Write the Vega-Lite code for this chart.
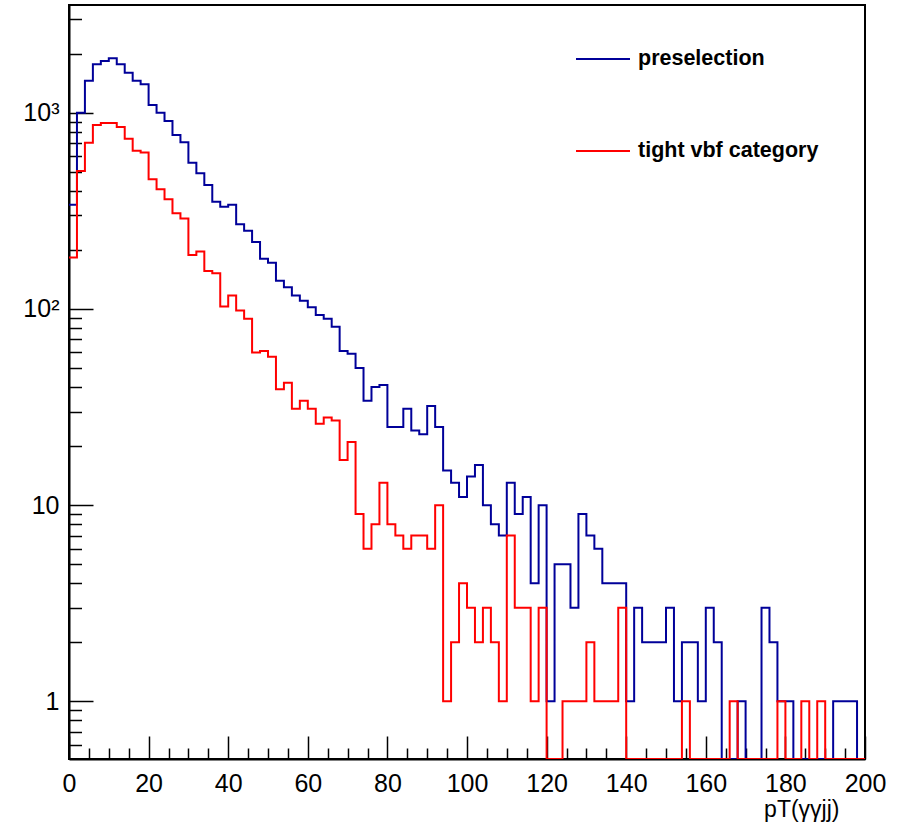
{
  "$schema": "https://vega.github.io/schema/vega-lite/v6.json",
  "width": 796,
  "height": 754,
  "autosize": {"type": "none"},
  "padding": {"left": 69, "top": 5, "right": 43, "bottom": 74},
  "background": "white",
  "config": {
    "view": {"stroke": "black", "strokeWidth": 2},
    "font": "Liberation Sans"
  },
  "data": {
    "values": [
      {"pT": 0, "preselection": 339, "tight vbf category": 183},
      {"pT": 2, "preselection": 1000, "tight vbf category": 505},
      {"pT": 4, "preselection": 1456, "tight vbf category": 703},
      {"pT": 6, "preselection": 1766, "tight vbf category": 866},
      {"pT": 8, "preselection": 1834, "tight vbf category": 886},
      {"pT": 10, "preselection": 1892, "tight vbf category": 886},
      {"pT": 12, "preselection": 1766, "tight vbf category": 846},
      {"pT": 14, "preselection": 1599, "tight vbf category": 737},
      {"pT": 16, "preselection": 1456, "tight vbf category": 640},
      {"pT": 18, "preselection": 1395, "tight vbf category": 626},
      {"pT": 20, "preselection": 1094, "tight vbf category": 458},
      {"pT": 22, "preselection": 1000, "tight vbf category": 407},
      {"pT": 24, "preselection": 907, "tight vbf category": 362},
      {"pT": 26, "preselection": 769, "tight vbf category": 307},
      {"pT": 28, "preselection": 706, "tight vbf category": 289},
      {"pT": 30, "preselection": 556, "tight vbf category": 188},
      {"pT": 32, "preselection": 491, "tight vbf category": 196},
      {"pT": 34, "preselection": 428, "tight vbf category": 156},
      {"pT": 36, "preselection": 352, "tight vbf category": 152},
      {"pT": 38, "preselection": 332, "tight vbf category": 103},
      {"pT": 40, "preselection": 339, "tight vbf category": 117},
      {"pT": 42, "preselection": 270, "tight vbf category": 98},
      {"pT": 44, "preselection": 250, "tight vbf category": 89},
      {"pT": 46, "preselection": 219, "tight vbf category": 60},
      {"pT": 48, "preselection": 180, "tight vbf category": 61},
      {"pT": 50, "preselection": 172, "tight vbf category": 57},
      {"pT": 52, "preselection": 139, "tight vbf category": 39},
      {"pT": 54, "preselection": 129, "tight vbf category": 42},
      {"pT": 56, "preselection": 117, "tight vbf category": 31},
      {"pT": 58, "preselection": 110, "tight vbf category": 34},
      {"pT": 60, "preselection": 102, "tight vbf category": 31},
      {"pT": 62, "preselection": 93, "tight vbf category": 26},
      {"pT": 64, "preselection": 89, "tight vbf category": 28},
      {"pT": 66, "preselection": 81, "tight vbf category": 27},
      {"pT": 68, "preselection": 61, "tight vbf category": 17},
      {"pT": 70, "preselection": 59, "tight vbf category": 21},
      {"pT": 72, "preselection": 50, "tight vbf category": 9},
      {"pT": 74, "preselection": 34, "tight vbf category": 6},
      {"pT": 76, "preselection": 40, "tight vbf category": 8},
      {"pT": 78, "preselection": 41, "tight vbf category": 13},
      {"pT": 80, "preselection": 25, "tight vbf category": 8},
      {"pT": 82, "preselection": 25, "tight vbf category": 7},
      {"pT": 84, "preselection": 31, "tight vbf category": 6},
      {"pT": 86, "preselection": 24, "tight vbf category": 7},
      {"pT": 88, "preselection": 23, "tight vbf category": 7},
      {"pT": 90, "preselection": 32, "tight vbf category": 6},
      {"pT": 92, "preselection": 25, "tight vbf category": 10},
      {"pT": 94, "preselection": 15, "tight vbf category": 1},
      {"pT": 96, "preselection": 13, "tight vbf category": 2},
      {"pT": 98, "preselection": 11, "tight vbf category": 4},
      {"pT": 100, "preselection": 14, "tight vbf category": 3},
      {"pT": 102, "preselection": 16, "tight vbf category": 2},
      {"pT": 104, "preselection": 10, "tight vbf category": 3},
      {"pT": 106, "preselection": 8, "tight vbf category": 2},
      {"pT": 108, "preselection": 7, "tight vbf category": 1},
      {"pT": 110, "preselection": 13, "tight vbf category": 7},
      {"pT": 112, "preselection": 9, "tight vbf category": 3},
      {"pT": 114, "preselection": 11, "tight vbf category": 3},
      {"pT": 116, "preselection": 4, "tight vbf category": 1},
      {"pT": 118, "preselection": 10, "tight vbf category": 3},
      {"pT": 120, "preselection": 1, "tight vbf category": 0},
      {"pT": 122, "preselection": 5, "tight vbf category": 0},
      {"pT": 124, "preselection": 5, "tight vbf category": 1},
      {"pT": 126, "preselection": 3, "tight vbf category": 1},
      {"pT": 128, "preselection": 9, "tight vbf category": 1},
      {"pT": 130, "preselection": 7, "tight vbf category": 2},
      {"pT": 132, "preselection": 6, "tight vbf category": 1},
      {"pT": 134, "preselection": 4, "tight vbf category": 1},
      {"pT": 136, "preselection": 4, "tight vbf category": 1},
      {"pT": 138, "preselection": 4, "tight vbf category": 3},
      {"pT": 140, "preselection": 1, "tight vbf category": 0},
      {"pT": 142, "preselection": 3, "tight vbf category": 0},
      {"pT": 144, "preselection": 2, "tight vbf category": 0},
      {"pT": 146, "preselection": 2, "tight vbf category": 0},
      {"pT": 148, "preselection": 2, "tight vbf category": 0},
      {"pT": 150, "preselection": 3, "tight vbf category": 0},
      {"pT": 152, "preselection": 1, "tight vbf category": 0},
      {"pT": 154, "preselection": 2, "tight vbf category": 1},
      {"pT": 156, "preselection": 2, "tight vbf category": 0},
      {"pT": 158, "preselection": 1, "tight vbf category": 0},
      {"pT": 160, "preselection": 3, "tight vbf category": 0},
      {"pT": 162, "preselection": 2, "tight vbf category": 0},
      {"pT": 164, "preselection": 0, "tight vbf category": 0},
      {"pT": 166, "preselection": 0, "tight vbf category": 1},
      {"pT": 168, "preselection": 1, "tight vbf category": 0},
      {"pT": 170, "preselection": 0, "tight vbf category": 0},
      {"pT": 172, "preselection": 0, "tight vbf category": 0},
      {"pT": 174, "preselection": 3, "tight vbf category": 0},
      {"pT": 176, "preselection": 2, "tight vbf category": 0},
      {"pT": 178, "preselection": 1, "tight vbf category": 1},
      {"pT": 180, "preselection": 1, "tight vbf category": 0},
      {"pT": 182, "preselection": 0, "tight vbf category": 0},
      {"pT": 184, "preselection": 0, "tight vbf category": 1},
      {"pT": 186, "preselection": 0, "tight vbf category": 0},
      {"pT": 188, "preselection": 0, "tight vbf category": 1},
      {"pT": 190, "preselection": 0, "tight vbf category": 0},
      {"pT": 192, "preselection": 1, "tight vbf category": 0},
      {"pT": 194, "preselection": 1, "tight vbf category": 0},
      {"pT": 196, "preselection": 1, "tight vbf category": 0},
      {"pT": 198, "preselection": 0, "tight vbf category": 0},
      {"pT": 200, "preselection": 0, "tight vbf category": 0}
    ]
  },
  "transform": [
    {"fold": ["preselection", "tight vbf category"], "as": ["sample", "count"]}
  ],
  "mark": {"type": "line", "interpolate": "step-after", "strokeWidth": 2, "invalid": "show", "clip": true},
  "encoding": {
    "x": {
      "field": "pT",
      "type": "quantitative",
      "scale": {"domain": [0, 200], "nice": false, "zero": false},
      "axis": {
        "title": "pT(γγjj)",
        "titleFont": "Liberation Sans",
        "titleFontSize": 23,
        "titleFontWeight": "normal",
        "titleColor": "black",
        "titleAlign": "right",
        "titleBaseline": "middle",
        "titleAnchor": "end",
        "titleX": 770,
        "titleY": 50,
        "values": [0,5,10,15,20,25,30,35,40,45,50,55,60,65,70,75,80,85,90,95,100,105,110,115,120,125,130,135,140,145,150,155,160,165,170,175,180,185,190,195,200],
        "labelExpr": "datum.value % 20 == 0 ? datum.label : ''",
        "labelFont": "Liberation Sans",
        "labelFontSize": 25,
        "labelColor": "black",
        "labelPadding": 35,
        "labelFlush": false,
        "labelOverlap": false,
        "grid": false,
        "domainColor": "black",
        "domainWidth": 2,
        "tickColor": "black",
        "tickWidth": 1.5,
        "tickSize": {"condition": {"test": "datum.value % 20 == 0", "value": -23}, "value": -11}
      }
    },
    "y": {
      "field": "count",
      "type": "quantitative",
      "scale": {"type": "log", "domain": [0.5085, 3537], "nice": false, "clamp": true},
      "axis": {
        "title": null,
        "values": [0.6,0.7,0.8,0.9,1,2,3,4,5,6,7,8,9,10,20,30,40,50,60,70,80,90,100,200,300,400,500,600,700,800,900,1000,2000,3000],
        "labelExpr": "datum.value == 1000 ? '10³' : datum.value == 100 ? '10²' : datum.value == 10 ? '10' : datum.value == 1 ? '1' : ''",
        "labelFont": "Liberation Sans",
        "labelFontSize": 25,
        "labelColor": "black",
        "labelPadding": 34,
        "labelFlush": false,
        "labelOverlap": false,
        "grid": false,
        "domainColor": "black",
        "domainWidth": 2,
        "tickColor": "black",
        "tickWidth": 1.5,
        "tickSize": {"condition": {"test": "datum.value == 1 || datum.value == 10 || datum.value == 100 || datum.value == 1000", "value": -24}, "value": -12.5}
      }
    },
    "color": {
      "field": "sample",
      "type": "nominal",
      "scale": {"domain": ["preselection", "tight vbf category"], "range": ["#000099", "#ff0000"]},
      "legend": {
        "title": null,
        "orient": "none",
        "legendX": 506,
        "legendY": 26,
        "padding": 0,
        "symbolType": "stroke",
        "symbolSize": 2916,
        "symbolStrokeWidth": 2,
        "rowPadding": 53,
        "labelOffset": 7,
        "labelLimit": 0,
        "labelFont": "Liberation Sans",
        "labelFontSize": 21.5,
        "labelFontWeight": "bold",
        "labelColor": "black"
      }
    }
  }
}
